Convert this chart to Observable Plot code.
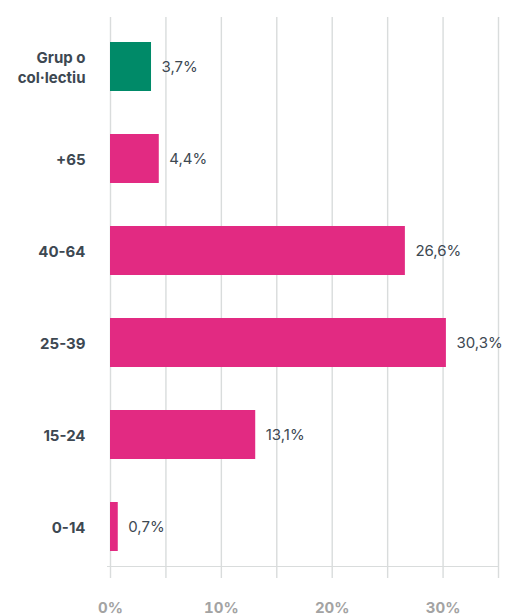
<!DOCTYPE html>
<html>
<head>
<meta charset="utf-8">
<script src="https://cdn.jsdelivr.net/npm/d3@7"></script>
<script src="https://cdn.jsdelivr.net/npm/@observablehq/plot@0.6"></script>
<style>
  html, body { margin: 0; padding: 0; background: #fff; }
</style>
</head>
<body>
<div id="chart"></div>
<script>
const categories = ["Grup o\ncol·lectiu", "+65", "40-64", "25-39", "15-24", "0-14"];
const values = [3.7, 4.4, 26.6, 30.3, 13.1, 0.7];
const groups = ["grup", "edat", "edat", "edat", "edat", "edat"];
const gridTicks = [0, 5, 10, 15, 20, 25, 30, 35];
const labelTicks = [0, 10, 20, 30];

const data = categories.map((c, i) => ({cat: c, value: values[i], group: groups[i]}));
const fmt = v => v.toFixed(1).replace(".", ",") + "%";

const plot = Plot.plot({
  width: 506,
  height: 615,
  marginLeft: 110,
  marginRight: 8,
  marginTop: 17,
  marginBottom: 48,
  style: {fontFamily: "Inter, 'Noto Sans', sans-serif", fontSize: "15px", background: "#fff"},
  x: {domain: [0, 35]},
  y: {domain: categories, range: [19.4, 572.6], paddingInner: 0.47, paddingOuter: 0.235},
  color: {domain: ["grup", "edat"], range: ["#008a68", "#e22a82"]},
  marks: [
    Plot.gridX(gridTicks, {stroke: "#d9dcdc", strokeOpacity: 1, strokeWidth: 1.4}),
    Plot.rect({length: 1}, {x1: -0.27, x2: 35, insetTop: 549, fill: "#d9dcdc"}),
    Plot.axisX(gridTicks, {tickSize: 11, tickFormat: () => "", stroke: "#d9dcdc", strokeWidth: 1.4, label: null}),
    Plot.axisX(labelTicks, {tickSize: 0, tickPadding: 35, tickFormat: d => d + "%", fill: "#a3a3a3", fontWeight: "bold", fontSize: 15, label: null}),
    Plot.barX(data, {x: "value", y: "cat", fill: "group"}),
    Plot.text(data, {x: "value", y: "cat", text: d => fmt(d.value), textAnchor: "start", dx: 10, fill: "#3d4852", fontSize: 15}),
    Plot.axisY({tickSize: 0, tickPadding: 25, fill: "#3d4852", fontWeight: "bold", fontSize: 15, lineHeight: 1.33, label: null})
  ]
});
document.getElementById("chart").appendChild(plot);
</script>
</body>
</html>
